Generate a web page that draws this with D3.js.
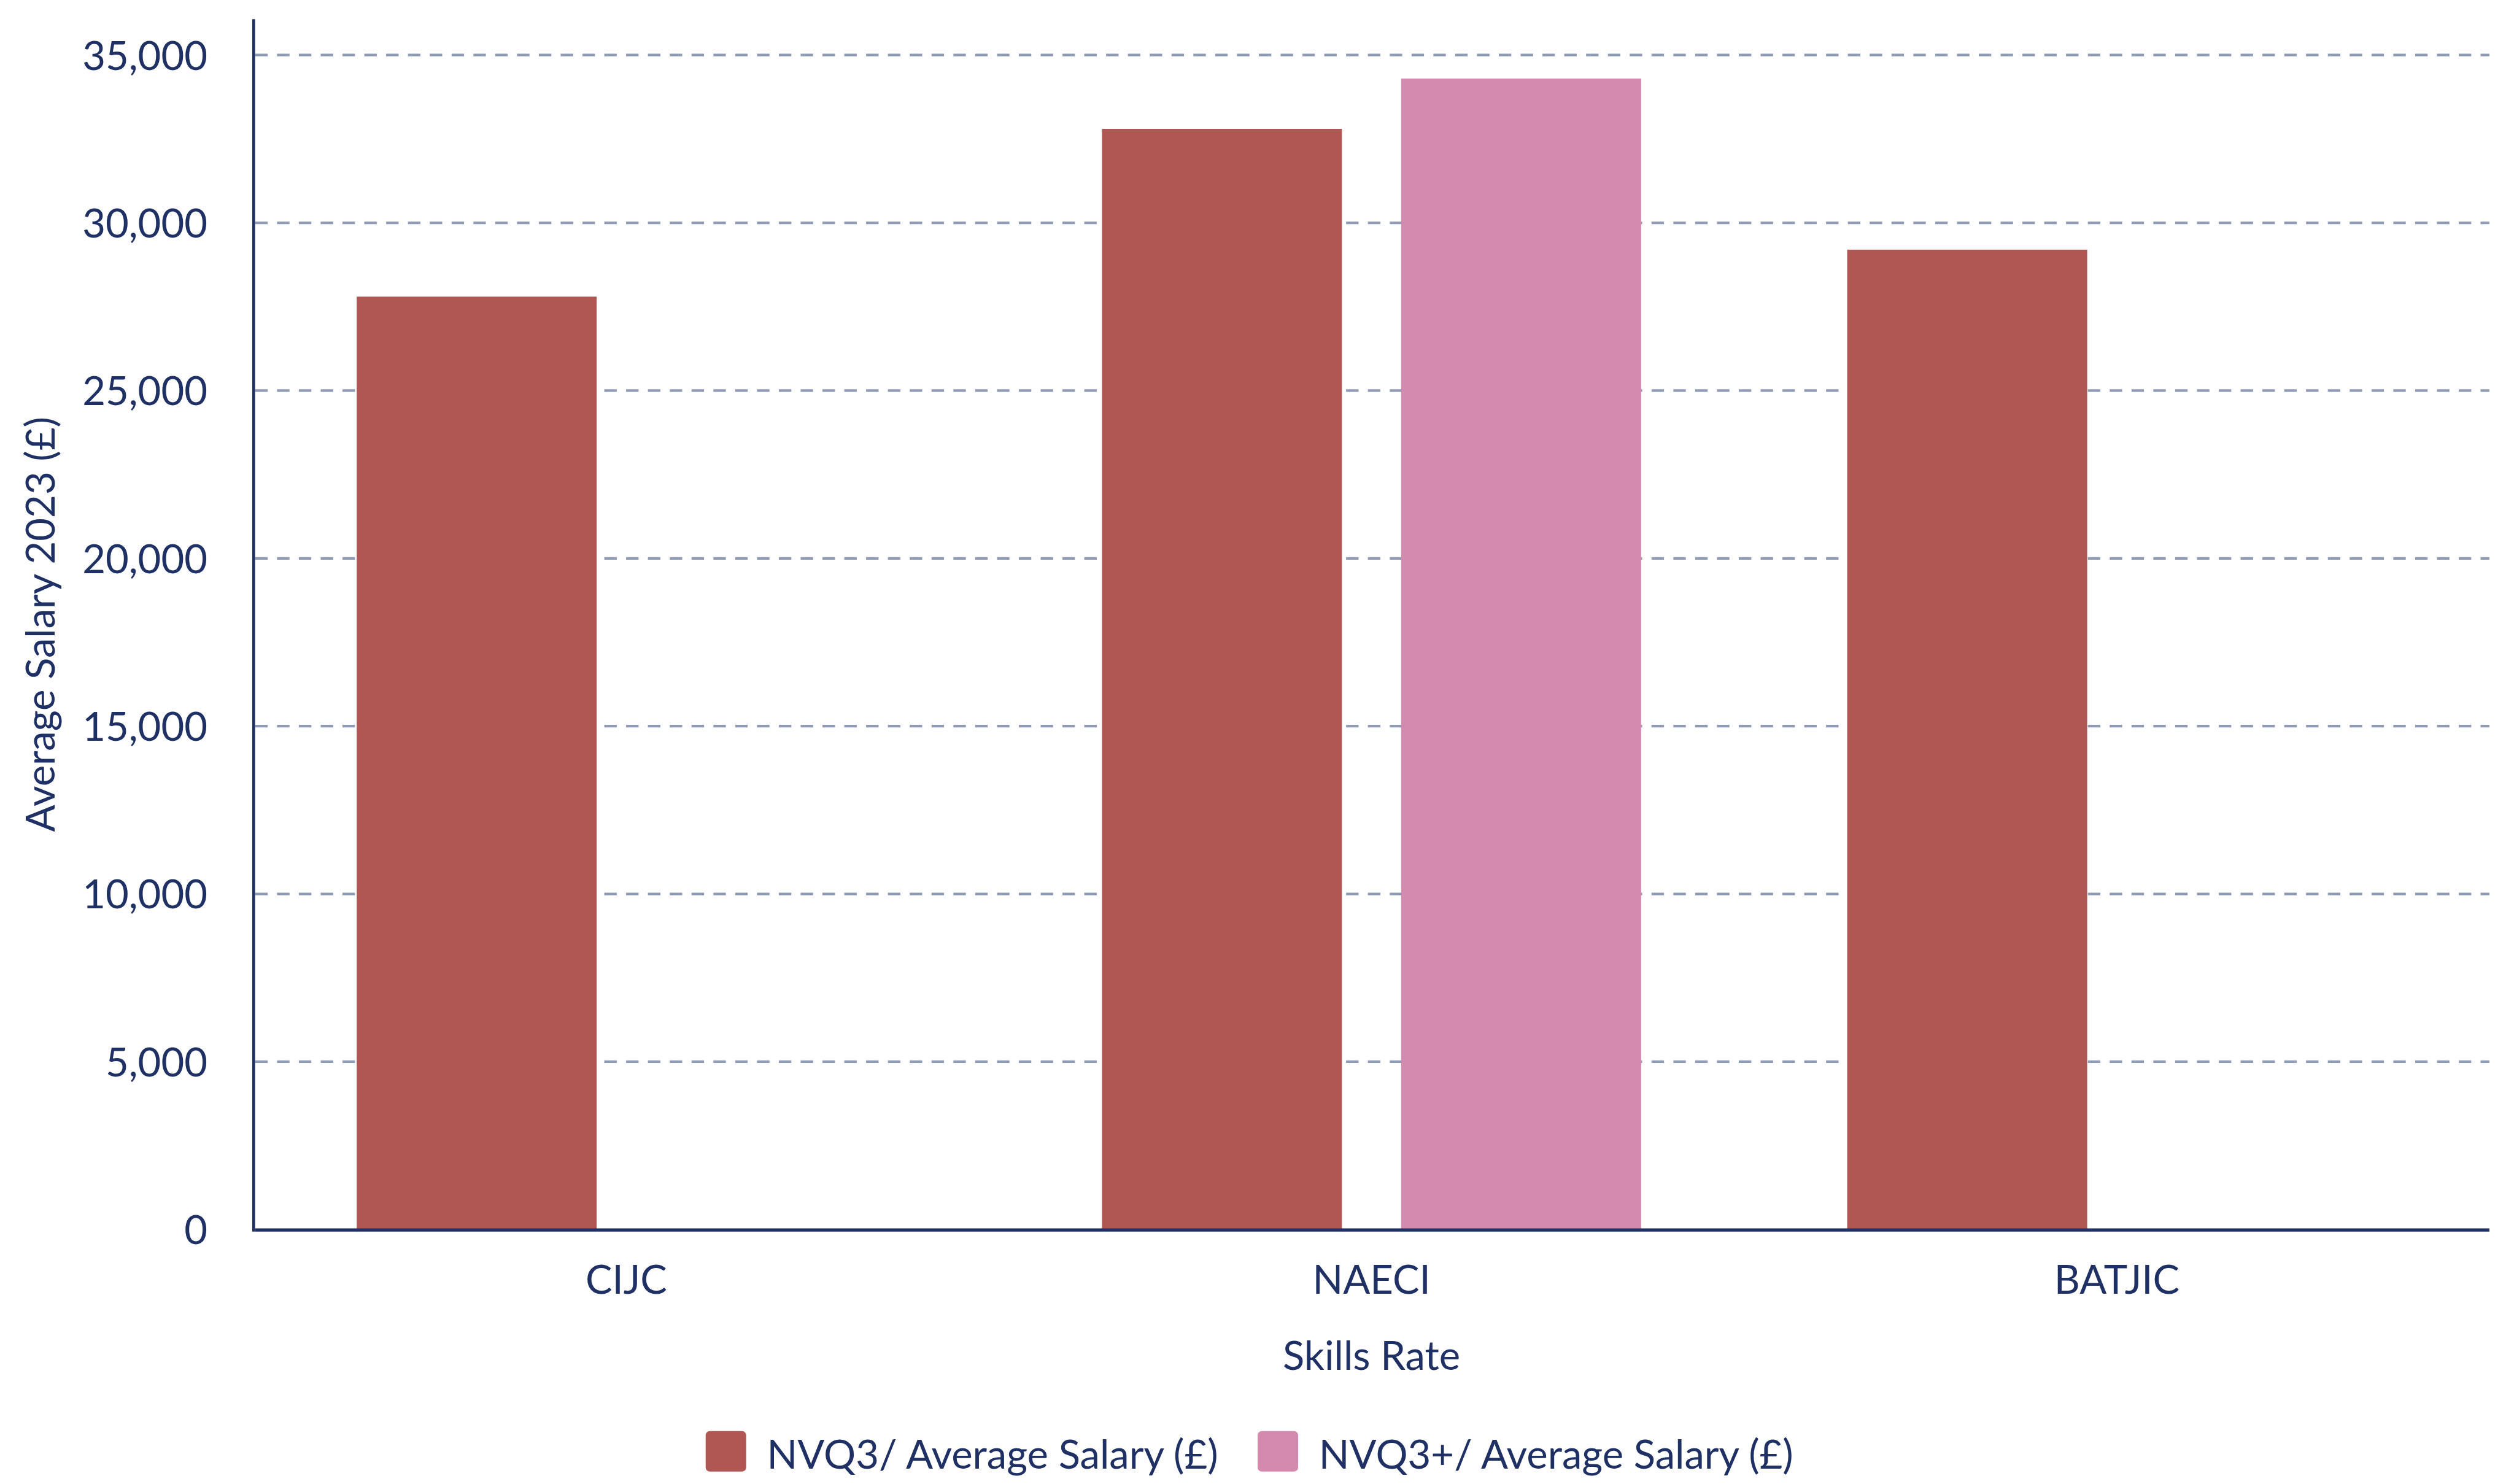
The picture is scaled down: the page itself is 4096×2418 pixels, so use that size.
<!DOCTYPE html>
<html>
<head>
<meta charset="utf-8">
<script src="https://d3js.org/d3.v7.min.js"></script>
<style>
  body { margin: 0; background: #fff; }
  svg text { font-family: Lato, "Open Sans", sans-serif; fill: #1f3064; }
</style>
</head>
<body>
<svg id="chart" width="4096" height="2418" viewBox="0 0 4839 2857"></svg>
<script>
// data
var categories = ["CIJC", "NAECI", "BATJIC"];
var seriesNames = ["NVQ3/ Average Salary (£)", "NVQ3+/ Average Salary (£)"];
var nvq3 = [27800, 32800, 29200];
var nvq3plus = [null, 34300, null];
var yTicks = [0, 5000, 10000, 15000, 20000, 25000, 30000, 35000];
var seriesColors = ["#b05753", "#d48aaf"];

var svg = d3.select("#chart");
var fontSize = 77;
var ink = "#1f3064";

// plot box (reference pixels, viewBox scales to window)
var plotLeft = 488, plotRight = 4792, plotTop = 106, plotBottom = 2367;

var x0 = d3.scaleBand().domain(categories).range([plotLeft, plotRight])
    .paddingInner(0.2765).paddingOuter(0.2765 / 2);
var x1 = d3.scaleBand().domain([0, 1]).range([0, x0.bandwidth()])
    .paddingInner(0.198).paddingOuter(0);
var y = d3.scaleLinear().domain([0, 35000]).range([plotBottom, plotTop]);
var color = d3.scaleOrdinal().domain([0, 1]).range(seriesColors);

// gridlines (behind bars)
svg.append("g")
    .selectAll("line")
    .data(yTicks.filter(function(d){ return d > 0; }))
    .enter().append("line")
    .attr("x1", plotLeft + 3)
    .attr("x2", plotRight)
    .attr("y1", function(d){ return y(d); })
    .attr("y2", function(d){ return y(d); })
    .attr("stroke", "#8f9ab5")
    .attr("stroke-width", 5)
    .attr("stroke-dasharray", "24 18");

// bars
var rows = categories.map(function(c, i){
    return { cat: c, vals: [nvq3[i], nvq3plus[i]] };
});
var groups = svg.append("g").selectAll("g")
    .data(rows).enter().append("g")
    .attr("transform", function(d){ return "translate(" + x0(d.cat) + ",0)"; });
groups.selectAll("rect")
    .data(function(d){
        return d.vals.map(function(v, k){ return { k: k, v: v }; })
                     .filter(function(e){ return e.v != null; });
    })
    .enter().append("rect")
    .attr("x", function(d){ return x1(d.k); })
    .attr("width", x1.bandwidth())
    .attr("y", function(d){ return y(d.v); })
    .attr("height", function(d){ return y(0) - y(d.v); })
    .attr("fill", function(d){ return color(d.k); });

// y axis
var yAxis = d3.axisLeft(y).tickValues(yTicks).tickSize(0).tickPadding(89)
    .tickFormat(d3.format(","));
var gy = svg.append("g").attr("transform", "translate(" + plotLeft + ",0)").call(yAxis);
gy.select(".domain").remove();
gy.selectAll("text")
    .attr("font-size", fontSize)
    .attr("dy", "0.36em")
    .style("font-family", "Lato, sans-serif")
    .attr("fill", ink);

svg.append("line")
    .attr("x1", plotLeft).attr("x2", plotLeft)
    .attr("y1", y.range()[1] - 69).attr("y2", y(0) + 4)
    .attr("stroke", ink).attr("stroke-width", 5.5);

// x axis
var xAxis = d3.axisBottom(x0).tickSize(0).tickPadding(69);
var gx = svg.append("g").attr("transform", "translate(0," + plotBottom + ")").call(xAxis);
gx.select(".domain").remove();
gx.selectAll("text")
    .attr("font-size", fontSize)
    .style("font-family", "Lato, sans-serif")
    .attr("fill", ink);

svg.append("line")
    .attr("x1", plotLeft + 3).attr("x2", plotRight)
    .attr("y1", plotBottom + 1).attr("y2", plotBottom + 1)
    .attr("stroke", ink).attr("stroke-width", 6);

// axis titles
svg.append("text")
    .attr("x", (plotLeft + plotRight) / 2)
    .attr("y", 2637)
    .attr("text-anchor", "middle")
    .attr("font-size", fontSize)
    .text("Skills Rate");

svg.append("text")
    .attr("transform", "translate(105," + ((37 + plotBottom) / 2) + ") rotate(-90)")
    .attr("text-anchor", "middle")
    .attr("font-size", fontSize)
    .text("Average Salary 2023 (£)");

// legend
var sw = 78, swGap = 40, itemGap = 76;
var legend = svg.append("g");
var items = legend.selectAll("g").data(seriesNames).enter().append("g");
items.append("rect")
    .attr("width", sw).attr("height", sw)
    .attr("rx", 8).attr("ry", 8)
    .attr("y", 2755)
    .attr("fill", function(d, i){ return seriesColors[i]; });
items.append("text")
    .attr("x", sw + swGap)
    .attr("y", 2828)
    .attr("font-size", fontSize)
    .text(function(d){ return d; });

var widths = [];
items.each(function(){
    widths.push(sw + swGap + d3.select(this).select("text").node().getComputedTextLength());
});
var total = d3.sum(widths) + itemGap * (widths.length - 1);
var startX = 2405 - total / 2;
items.attr("transform", function(d, i){
    var off = startX;
    for (var j = 0; j < i; j++) off += widths[j] + itemGap;
    return "translate(" + off + ",0)";
});
</script>
</body>
</html>
